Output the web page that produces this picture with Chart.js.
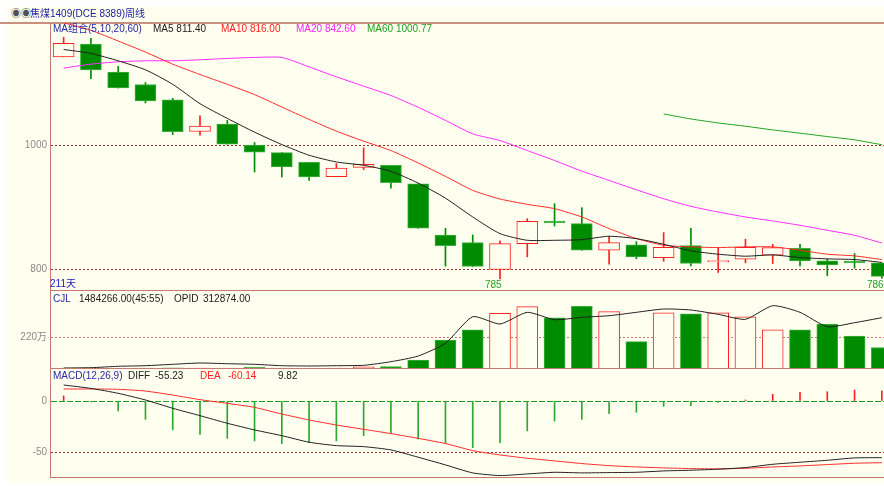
<!DOCTYPE html>
<html>
<head>
<meta charset="utf-8">
<script src="https://cdn.jsdelivr.net/npm/chart.js@4.4.0/dist/chart.umd.min.js"></script>
<style>
  body { margin: 0; background: #fff; }
  #wrap { position: relative; width: 884px; height: 486px; overflow: hidden; background: #fff; }
  .bg { position: absolute; left: 7px; top: 7px; width: 877px; height: 477px; background: #FFFFF0; }
  canvas { position: absolute; left: 0; }
  .t { position: absolute; font: 10px "Liberation Sans", "Noto Sans CJK SC", sans-serif; white-space: nowrap; line-height: 12px; }
  .hl { position: absolute; background: #C87A70; }
</style>
</head>
<body>
<div id="wrap">
  <div class="bg"></div>
  <div class="hl" style="left:0;top:22px;width:884px;height:2px;background:#C8907E"></div>
  <canvas id="price" width="884" height="268" style="top:23px"></canvas>
  <canvas id="vol" width="884" height="78" style="top:291px"></canvas>
  <canvas id="macd" width="884" height="108" style="top:369px"></canvas>
  <div class="hl" style="left:50px;top:290px;width:834px;height:1px"></div>
  <div class="hl" style="left:50px;top:368px;width:834px;height:1px"></div>
  <div class="hl" style="left:50px;top:477px;width:834px;height:1px"></div>
  <div id="texts"></div>
</div>
<script>
// weekly bars, index 0 = leftmost visible week
const weekIdx = [0,1,2,3,4,5,6,7,8,9,10,11,12,13,14,15,16,17,18,19,20,21,22,23,24,25,26,27,28,29,30];

const openP  = [1142,1162.8,1117.5,1097.6,1072.8,1022.1,1034,1000,988.1,972.5,949.3,964.4,967.7,938,855.5,843.3,800,841.7,878,873.8,831,839.6,819.2,838.5,812.3,816.6,823,834.2,813.9,813.4,810.7];
const closeP = [1164,1121.3,1092.2,1071.1,1021.6,1030.7,1001.6,988.7,965,948.8,963.3,969.3,939.6,866.3,838.3,804.8,841.7,877.5,874.9,831,843.3,820.3,835.8,809.6,814.4,835.8,835.3,813.9,807.5,810.7,789];
const highP  = [1173.6,1172,1126.7,1100.8,1075.5,1047.4,1039.9,1004.3,988.1,972.5,970.4,995.7,967.7,938,866.3,855.6,846,881.8,905.9,899.5,853.5,844.9,859.3,866.3,835.3,848.7,840.6,840.6,817.1,825.7,810.7];
const lowP   = [1142,1107,1092,1067.9,1017.2,1016.2,1001.6,956.9,948.8,943.4,949.3,960.7,931,866.3,805.4,804.8,785,820.3,870,831,808.5,817,813.4,805.9,795.2,810.7,809.6,805.9,789.8,802.1,786];

const ma5  = [1154,1147.7,1135.8,1121.3,1098,1066.8,1043.1,1021,1001,983.8,973,967.7,958,939,914.8,884.5,857.7,847,847,848,853.5,849.7,840.6,830,824.6,821.4,823.5,819.2,817.1,816,811.4];
const ma10 = [1197,1184.9,1167.6,1149.8,1130.4,1113.7,1098,1081.4,1061.4,1041.5,1022.6,1006.5,991.4,971.4,949.9,927.3,913.4,904.8,897.9,884.5,865.8,849.7,839,836.4,835.3,836.4,836.4,831,824.6,821.9,816];
const ma20 = [1124,1130.4,1134.2,1135.8,1135.8,1137.4,1139.6,1141.2,1141.2,1126,1110,1095,1080,1061,1040,1018.2,1007.5,991.4,975.4,958.3,943.3,928.3,913.9,901.6,892.5,884.5,878.1,871.1,863.1,855.1,842.6];
const ma60 = [null,null,null,null,null,null,null,null,null,null,null,null,null,null,null,null,null,null,null,null,null,null,1050.3,1042.2,1035.8,1030.5,1024.6,1019.3,1013.9,1008.6,1000.77];

// volume in 万手, open interest in 手
const volume = [5,8,5,6,8,7,6,12,6,5,6,15,17,62,204,276,391,438,360,441,403,192,395,388,395,367,276,276,316,232,151];
const openInt = [2000,3700,12400,16100,24700,32800,28400,24700,16100,14200,16100,18500,40800,76000,154600,319000,273900,346200,300500,315300,325200,346200,366700,360500,333900,303000,387100,346200,257200,281900,312874];

const diff = [15.6,12.3,7.5,1,-7.1,-14.3,-21.7,-28.2,-33.8,-40.2,-43.5,-44.5,-47.7,-54.8,-62.3,-70.1,-72.7,-71.1,-69.5,-70.1,-69.8,-69.5,-68.2,-67.5,-66.5,-64.9,-61.7,-59.7,-57.8,-55.5,-55.23];
const dea  = [11.7,11.7,11.4,9.7,5.8,1.3,-2.3,-6.2,-12.7,-18.5,-23.4,-27.6,-31.8,-36.4,-41.5,-48.4,-52.6,-55.8,-58.4,-61,-63,-64.3,-65.2,-65.9,-66.2,-65.6,-64.3,-63.3,-62,-60.7,-60.14];
const macdHist = [5,-1,-9.7,-17.9,-28.2,-32.5,-36.4,-38.9,-41.5,-40.6,-38.9,-33.8,-31.5,-37,-41.2,-45.4,-40.6,-29.2,-19.5,-17.9,-12.3,-11,-5.2,-4.5,-1.3,1,6.5,8.4,9,10.7,9.82];

const priceTicks = [800, 1000];
const volTicks = [220];
const macdTicks = [0, -50];

const UP = '#FF2020';
const DOWN = '#008C00';
const BG = '#FFFFF0';

Chart.defaults.font.family = '"Liberation Sans", "Noto Sans CJK SC", sans-serif';
Chart.defaults.font.size = 10;
Chart.defaults.animation = false;

const isUp = i => closeP[i] >= openP[i];
const pts = (pred, fn) => weekIdx.filter(pred).map(i => ({ x: i, y: fn(i) }));

function xAxis() {
  // last week is cut off by the right edge, like in the terminal
  return { type: 'linear', min: -0.5, max: 30.08, offset: false, display: false };
}

function yAxis(min, max, tickVals, fmt, gridColor) {
  return {
    type: 'linear',
    position: 'left',
    min: min,
    max: max,
    afterBuildTicks: s => { s.ticks = tickVals.map(v => ({ value: v })) },
    afterFit: s => { s.width = 50; s.paddingTop = 0; s.paddingBottom = 0 },
    ticks: { color: '#8A8A8A', padding: 3, callback: fmt },
    grid: { drawTicks: false, color: gridColor, lineWidth: 1 },
    border: {
      display: true, color: '#C87A70', width: 1,
      dash: ctx => (ctx.tick && ctx.tick.value === 0) ? [6, 2] : [2, 2]
    }
  };
}

function baseOptions(scales) {
  return {
    responsive: false,
    devicePixelRatio: 1,
    animation: false,
    layout: { padding: 0 },
    plugins: { legend: { display: false }, tooltip: { enabled: false } },
    datasets: { bar: { grouped: false } },
    scales: scales
  };
}

function maLine(values, color) {
  return {
    type: 'line',
    data: weekIdx.map(i => ({ x: i, y: values[i] })),
    borderColor: color, borderWidth: 1, pointRadius: 0, tension: 0.2, order: 0
  };
}

// price panel
new Chart(document.getElementById('price'), {
  type: 'bar',
  data: {
    datasets: [
      { data: pts(isUp, i => [lowP[i], highP[i]]), backgroundColor: UP, barThickness: 1, order: 3 },
      { data: pts(i => !isUp(i), i => [lowP[i], highP[i]]), backgroundColor: DOWN, barThickness: 1, order: 3 },
      { data: pts(isUp, i => [openP[i], closeP[i]]), backgroundColor: BG, borderColor: UP,
        borderWidth: 1, borderSkipped: false, barThickness: 21, order: 2 },
      { data: pts(i => !isUp(i), i => [closeP[i], openP[i]]), backgroundColor: DOWN, borderColor: '#3CAF3C',
        borderWidth: 1, borderSkipped: false, barThickness: 21, order: 2 },
      maLine(ma5, '#202020'),
      maLine(ma10, '#FF2A2A'),
      maLine(ma20, '#FF2AFF'),
      maLine(ma60, '#20A020')
    ]
  },
  options: baseOptions({
    x: xAxis(),
    y: yAxis(765.4, 1196.6, priceTicks, v => String(v), '#A03030')
  })
});

// volume / open interest panel
new Chart(document.getElementById('vol'), {
  type: 'bar',
  data: {
    datasets: [
      { data: pts(isUp, i => volume[i]), backgroundColor: BG, borderColor: UP,
        borderWidth: 1, borderSkipped: false, barThickness: 21, order: 2 },
      { data: pts(i => !isUp(i), i => volume[i]), backgroundColor: DOWN, borderColor: '#3CAF3C',
        borderWidth: 1, borderSkipped: false, barThickness: 21, order: 2 },
      { type: 'line', yAxisID: 'y1', data: weekIdx.map(i => ({ x: i, y: openInt[i] })),
        borderColor: '#202020', borderWidth: 1, pointRadius: 0, tension: 0.2, order: 0 }
    ]
  },
  options: baseOptions({
    x: xAxis(),
    y: yAxis(0, 548, volTicks, v => v + '万', '#D07070'),
    y1: { type: 'linear', display: false, min: -4300, max: 478000 }
  })
});

// MACD panel
new Chart(document.getElementById('macd'), {
  type: 'bar',
  data: {
    datasets: [
      { data: pts(i => macdHist[i] >= 0, i => macdHist[i]), backgroundColor: UP, barThickness: 1, order: 2 },
      { data: pts(i => macdHist[i] < 0, i => macdHist[i]), backgroundColor: '#2EA82E', barThickness: 1, order: 2 },
      maLine(diff, '#202020'),
      maLine(dea, '#FF2A2A')
    ]
  },
  options: baseOptions({
    x: xAxis(),
    y: yAxis(-74.1, 31.2, macdTicks, v => String(v),
      ctx => (ctx.tick && ctx.tick.value === 0) ? '#20A020' : '#A03030')
  })
});

// header and marker texts
const labels = [
  ['◉◉', 11, 14, '#505050'],
  ['焦煤1409(DCE 8389)周线', 30, 14, '#2020A0'],
  ['MA组合(5,10,20,60)', 53, 29, '#2828A0'],
  ['MA5 811.40', 153, 29, '#202020'],
  ['MA10 816.00', 221, 29, '#FF2020'],
  ['MA20 842.60', 296, 29, '#FF20FF'],
  ['MA60 1000.77', 367, 29, '#20A020'],
  ['211天', 50, 284, '#2020C0'],
  ['785', 485, 285, '#20A020'],
  ['786', 867, 285, '#20A020'],
  ['CJL', 53, 299, '#2828A0'],
  ['1484266.00(45:55)', 79, 299, '#202020'],
  ['OPID', 174, 299, '#202020'],
  ['312874.00', 203, 299, '#202020'],
  ['MACD(12,26,9)', 53, 376, '#2828A0'],
  ['DIFF', 128, 376, '#202020'],
  ['-55.23', 155, 376, '#202020'],
  ['DEA', 200, 376, '#FF2020'],
  ['-60.14', 228, 376, '#FF2020'],
  ['9.82', 278, 376, '#202020']
];
const box = document.getElementById('texts');
labels.forEach(([txt, x, y, color]) => {
  const d = document.createElement('div');
  d.className = 't';
  d.textContent = txt;
  d.style.left = x + 'px';
  d.style.top = (y - 6) + 'px';
  d.style.color = color;
  box.appendChild(d);
});
</script>
</body>
</html>
